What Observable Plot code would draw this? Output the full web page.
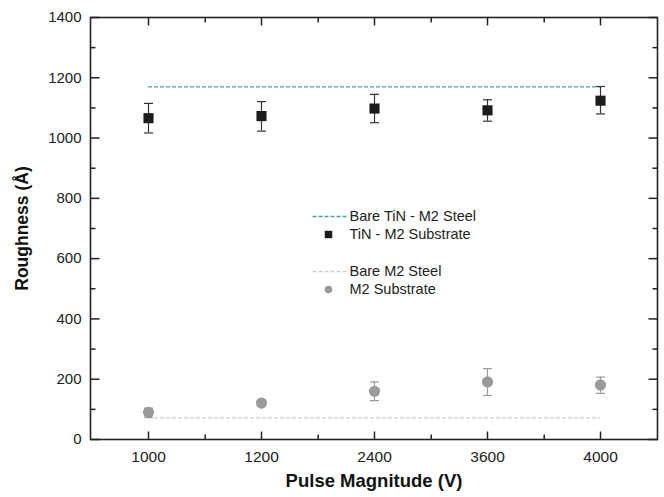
<!DOCTYPE html>
<html><head><meta charset="utf-8">
<script src="https://cdn.jsdelivr.net/npm/d3@7"></script>
<script src="https://cdn.jsdelivr.net/npm/@observablehq/plot@0.6"></script>
<style>
html,body{margin:0;padding:0;background:#fff;}
#chart{width:664px;height:497px;overflow:hidden;}
</style></head><body><div id="chart"></div>
<script>
// ---- data ----
const pulses = ["1000", "1200", "2400", "3600", "4000"];
const tinMean = [1066, 1073, 1098, 1092, 1124];
const tinLow  = [1017, 1023, 1051, 1056, 1080];
const tinHigh = [1115, 1121, 1145, 1127, 1171];
const m2Mean  = [90, 121, 160, 191, 181];
const m2Low   = [73, 115, 129, 146, 153];
const m2High  = [104, 127, 191, 235, 207];
const bareTiN = [1170];
const bareM2  = [72];
const yMajor = [0, 200, 400, 600, 800, 1000, 1200, 1400];
const yMinor = [100, 300, 500, 700, 900, 1100, 1300];
const seriesNames = ["Bare TiN - M2 Steel", "TiN - M2 Substrate", "Bare M2 Steel", "M2 Substrate"];

// ---- layout ----
const W = 664, H = 497, mL = 90, mR = 7, mT = 17, mB = 58;
const step = (W - mL - mR) / pulses.length;
const rows = pulses.map((p, i) => ({p, tin: tinMean[i], tinLo: tinLow[i], tinHi: tinHigh[i], m2: m2Mean[i], m2Lo: m2Low[i], m2Hi: m2High[i]}));
const seg = (x1, y1, x2, y2) => ({draw(ctx) { ctx.moveTo(x1, y1); ctx.lineTo(x2, y2); }});
const cap = seg(-4.5, 0, 4.5, 0);
const font = "Liberation Sans, Arial, sans-serif";
const teal = "#48a3a3", darkSq = "#1c1c1c", grayDot = "#9a9a9a", lightDash = "#cfcfcf", axisCol = "#222";
const firstP = pulses[0], lastP = pulses[pulses.length - 1];

const tickMarks = [
  Plot.dot(yMajor, {y: d => d, frameAnchor: "left", symbol: seg(0, 0, 9, 0), stroke: axisCol, fill: "none"}),
  Plot.dot(yMajor, {y: d => d, frameAnchor: "right", symbol: seg(0, 0, -9, 0), stroke: axisCol, fill: "none"}),
  Plot.dot(yMinor, {y: d => d, frameAnchor: "left", symbol: seg(0, 0, 5, 0), stroke: axisCol, fill: "none"}),
  Plot.dot(yMinor, {y: d => d, frameAnchor: "right", symbol: seg(0, 0, -5, 0), stroke: axisCol, fill: "none"}),
  Plot.dot(pulses, {x: d => d, frameAnchor: "bottom", symbol: seg(0, 0, 0, -8), stroke: axisCol, fill: "none"}),
  Plot.dot(pulses, {x: d => d, frameAnchor: "top", symbol: seg(0, 0, 0, 8), stroke: axisCol, fill: "none"}),
  Plot.dot(pulses.slice(0, 4), {x: d => d, dx: step / 2, frameAnchor: "bottom", symbol: seg(0, 0, 0, -5), stroke: axisCol, fill: "none"}),
  Plot.dot(pulses.slice(0, 4), {x: d => d, dx: step / 2, frameAnchor: "top", symbol: seg(0, 0, 0, 5), stroke: axisCol, fill: "none"})
];

const legendY = [199, 217, 254, 272];
const legend = [
  Plot.dot([0], {frameAnchor: "top-left", dx: 239, dy: legendY[0], symbol: seg(-17, 0, 17, 0), stroke: teal, strokeDasharray: "4,2", strokeWidth: 1.3, fill: "none"}),
  Plot.dot([0], {frameAnchor: "top-left", dx: 238, dy: legendY[1], symbol: "square", r: 4.2, fill: darkSq}),
  Plot.dot([0], {frameAnchor: "top-left", dx: 239, dy: legendY[2], symbol: seg(-17, 0, 17, 0), stroke: lightDash, strokeDasharray: "4,2", strokeWidth: 1.3, fill: "none"}),
  Plot.dot([0], {frameAnchor: "top-left", dx: 238, dy: legendY[3], r: 3.8, fill: grayDot}),
  ...seriesNames.map((name, i) => Plot.text([name], {frameAnchor: "top-left", dx: 259, dy: legendY[i], text: d => d, textAnchor: "start", lineAnchor: "middle", fontSize: 14.5, fill: "#222"}))
];

const chart = Plot.plot({
  width: W, height: H,
  marginLeft: mL, marginRight: mR, marginTop: mT, marginBottom: mB,
  style: {fontFamily: font, background: "#fff"},
  x: {type: "point", domain: pulses, padding: 0.5},
  y: {domain: [0, 1400]},
  marks: [
    Plot.ruleY(bareM2, {y: d => d, x1: () => firstP, x2: () => lastP, stroke: lightDash, strokeDasharray: "4,2", strokeWidth: 1.3}),
    Plot.ruleY(bareTiN, {y: d => d, x1: () => firstP, x2: () => lastP, stroke: teal, strokeDasharray: "4,2", strokeWidth: 1.3}),
    // M2 substrate error bars + dots
    Plot.ruleX(rows, {x: "p", y1: "m2Lo", y2: "m2Hi", stroke: grayDot, strokeWidth: 1.2}),
    Plot.dot(rows, {x: "p", y: "m2Lo", symbol: cap, stroke: grayDot, strokeWidth: 1.2, fill: "none"}),
    Plot.dot(rows, {x: "p", y: "m2Hi", symbol: cap, stroke: grayDot, strokeWidth: 1.2, fill: "none"}),
    Plot.dot(rows, {x: "p", y: "m2", r: 5.6, fill: grayDot}),
    // TiN error bars + squares
    Plot.ruleX(rows, {x: "p", y1: "tinLo", y2: "tinHi", stroke: "#333", strokeWidth: 1.2}),
    Plot.dot(rows, {x: "p", y: "tinLo", symbol: cap, stroke: "#333", strokeWidth: 1.2, fill: "none"}),
    Plot.dot(rows, {x: "p", y: "tinHi", symbol: cap, stroke: "#333", strokeWidth: 1.2, fill: "none"}),
    Plot.dot(rows, {x: "p", y: "tin", symbol: "square", r: 5.7, fill: darkSq}),
    // axes
    Plot.axisY(yMajor, {tickSize: 0, tickPadding: 9, fontSize: 15, label: null, fill: "#222", tickFormat: d => String(d)}),
    Plot.axisX(pulses, {tickSize: 0, tickPadding: 11, fontSize: 15.5, label: null, fill: "#222"}),
    ...tickMarks,
    Plot.frame({stroke: axisCol, strokeWidth: 1.6}),
    Plot.text(["Roughness (Å)"], {frameAnchor: "left", dx: -68, rotate: -90, text: d => d, textAnchor: "middle", lineAnchor: "middle", fontSize: 17.5, fontWeight: "bold", fill: "#111"}),
    Plot.text(["Pulse Magnitude (V)"], {frameAnchor: "bottom", dy: 42, text: d => d, textAnchor: "middle", lineAnchor: "middle", fontSize: 18.5, fontWeight: "bold", fill: "#111"}),
    ...legend
  ]
});
document.getElementById("chart").appendChild(chart);
</script>
</body></html>
